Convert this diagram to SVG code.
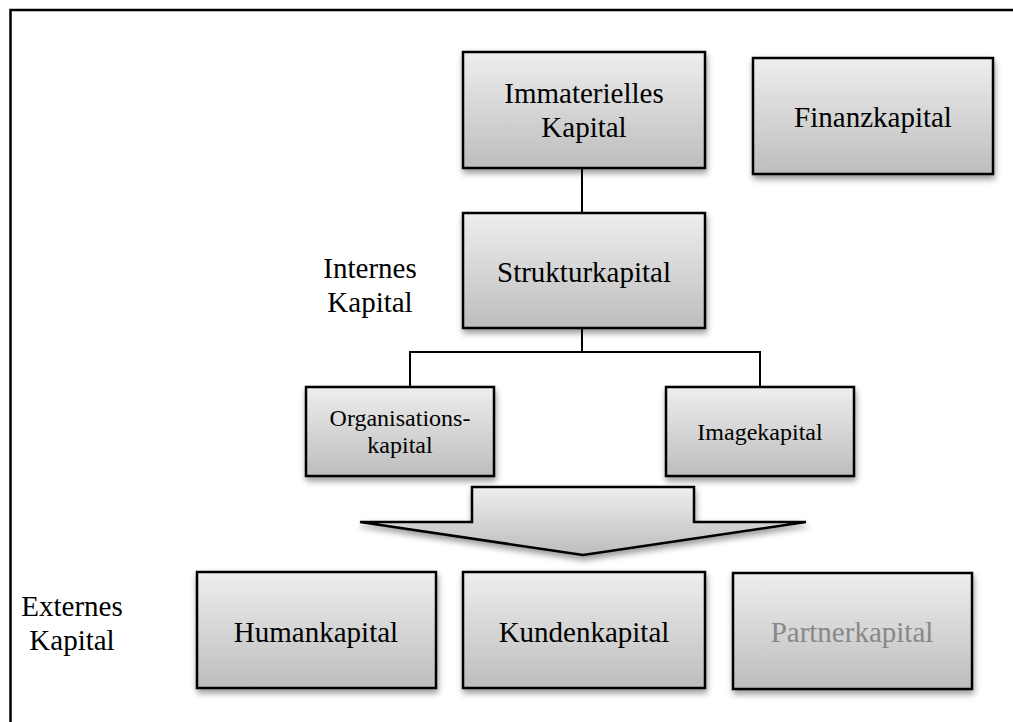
<svg xmlns="http://www.w3.org/2000/svg" width="1013" height="722" viewBox="0 0 1013 722">
<style>
.box{fill:url(#g);stroke:#000;stroke-width:2.5;filter:url(#sh)}
text{font-family:'Liberation Serif','Times New Roman',Times,'DejaVu Serif',serif;fill:#000;text-anchor:middle}
.big{font-size:29px}
.sm{font-size:24px}
.con{fill:none;stroke:#000;stroke-width:2}
.grey{fill:#888}
</style>
<defs>
<linearGradient id="g" x1="0" y1="0" x2="0" y2="1">
<stop offset="0" stop-color="#eeeeee"/>
<stop offset="1" stop-color="#bdbdbd"/>
</linearGradient>
<filter id="sh" x="-10%" y="-10%" width="125%" height="130%">
<feGaussianBlur in="SourceAlpha" stdDeviation="3"/>
<feOffset dx="1" dy="4" result="b"/>
<feComponentTransfer><feFuncA type="linear" slope="0.4"/></feComponentTransfer>
<feMerge><feMergeNode/><feMergeNode in="SourceGraphic"/></feMerge>
</filter>
</defs>
<rect width="1013" height="722" fill="#fff"/>
<path d="M10.5 722 V10 H1013" fill="none" stroke="#000" stroke-width="2.5"/>

<g id="connectors">
<line class="con" x1="582" y1="168" x2="582" y2="213"/>
<polyline class="con" points="410,387 410,352 760,352 760,387"/>
<line class="con" x1="582" y1="328" x2="582" y2="352"/>
</g>

<g id="n-immateriell">
<rect class="box" x="463" y="52" width="242" height="116"/>
<text class="big" x="584" y="103">Immaterielles</text>
<text class="big" x="584" y="137">Kapital</text>
</g>
<g id="n-finanz">
<rect class="box" x="753" y="58" width="240" height="116"/>
<text class="big" x="873" y="127">Finanzkapital</text>
</g>
<g id="n-struktur">
<rect class="box" x="463" y="213" width="242" height="115"/>
<text class="big" x="584" y="282">Strukturkapital</text>
</g>
<g id="l-intern">
<text class="big" x="370" y="278">Internes</text>
<text class="big" x="370" y="312">Kapital</text>
</g>
<g id="n-organisation">
<rect class="box" x="306" y="387" width="188" height="89"/>
<text class="sm" x="400" y="426">Organisations-</text>
<text class="sm" x="400" y="453">kapital</text>
</g>
<g id="n-image">
<rect class="box" x="666" y="387" width="188" height="89"/>
<text class="sm" x="760" y="440">Imagekapital</text>
</g>
<g id="arrow">
<polygon class="box" points="472,487 694,487 694,522 806,522 583,555 360,522 472,522"/>
</g>
<g id="l-extern">
<text class="big" x="72" y="616">Externes</text>
<text class="big" x="72" y="650">Kapital</text>
</g>
<g id="n-human">
<rect class="box" x="197" y="572" width="239" height="116"/>
<text class="big" x="316" y="642">Humankapital</text>
</g>
<g id="n-kunden">
<rect class="box" x="463" y="572" width="242" height="116"/>
<text class="big" x="584" y="642">Kundenkapital</text>
</g>
<g id="n-partner">
<rect class="box" x="733" y="573" width="239" height="116"/>
<text class="big grey" x="852" y="642">Partnerkapital</text>
</g>
</svg>
